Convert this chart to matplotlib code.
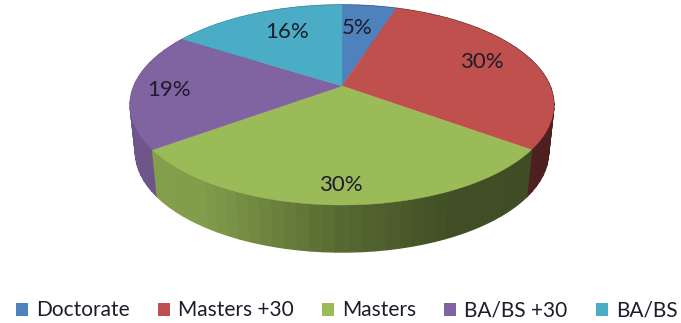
import numpy as np
import matplotlib
matplotlib.use("Agg")
import matplotlib.pyplot as plt
from matplotlib.patches import Polygon, Patch

categories = ["Doctorate", "Masters +30", "Masters", "BA/BS +30", "BA/BS"]
values = [5, 30, 30, 19, 16]
labels = ["5%", "30%", "30%", "19%", "16%"]
colors = ["#4F81BD", "#C0504D", "#9BBB59", "#8064A2", "#4BACC6"]

plt.rcParams['font.family'] = ['Lato', 'DejaVu Sans']
text_color = "#1c1c2c"

# pie centre on screen, size, perspective amount
cx, cy = 342, 86
sx, sy = 208, 96.4
k = 0.19
depth = 47

def project(t):
    # t is clockwise from top, perspective makes the back of the disc smaller
    u = np.sin(t)
    v = np.cos(t)
    return cx + sx * u / (1 + k * v), cy - sy * v / (1 + k * v)

def drop(x, y):
    # same points on the bottom rim of the pie
    return cx + (x - cx) * 0.975, y + depth

def shade(x):
    # side wall gets darker going left to right
    return np.interp(x, [130, 200, 342, 450, 554], [0.86, 0.84, 0.56, 0.42, 0.40])

fig = plt.figure(figsize=(6.81, 3.23), dpi=100)
ax = fig.add_axes([0, 0, 1, 1])
ax.set_xlim(0, 681)
ax.set_ylim(323, 0)
ax.axis("off")

fracs = np.array(values) / sum(values)
edges = np.concatenate([[0], np.cumsum(fracs)]) * 2 * np.pi

# side wall first, back to front
quads = []
for i in range(len(values)):
    ts = np.linspace(edges[i], edges[i + 1], int(fracs[i] * 120) + 2)
    for a, b in zip(ts[:-1], ts[1:]):
        quads.append((np.cos((a + b) / 2), a, b, colors[i]))
quads.sort(key=lambda q: -q[0])
for _, a, b, c in quads:
    ends = np.linspace(a, b, 8)
    x, y = project(ends)
    xb, yb = drop(x, y)
    pts = list(zip(x, y)) + list(zip(xb[::-1], yb[::-1]))
    s = shade(x.mean())
    rgb = np.array(matplotlib.colors.to_rgb(c)) * s
    ax.add_patch(Polygon(pts, closed=True, facecolor=rgb, edgecolor=rgb, linewidth=1.0))

# top of the pie
for i in range(len(values)):
    ts = np.linspace(edges[i], edges[i + 1], 80)
    x, y = project(ts)
    pts = [(cx, cy)] + list(zip(x, y))
    ax.add_patch(Polygon(pts, closed=True, facecolor=colors[i], edgecolor=colors[i], linewidth=0.3))

label_pos = [(357, 28), (482, 62), (341, 185), (169, 90), (287, 32)]
for lab, (lx, ly) in zip(labels, label_pos):
    ax.text(lx, ly, lab, ha="center", va="center", fontsize=16, color=text_color)

handles = [Patch(facecolor=c, edgecolor="none") for c in colors]
leg = ax.legend(handles, categories, ncol=5, loc="center", bbox_to_anchor=(346.5 / 681, 1 - 310.5 / 323),
                frameon=False, fontsize=15, labelcolor=text_color, handlelength=0.58, handleheight=0.58,
                handletextpad=0.38, columnspacing=1.36, borderpad=0, borderaxespad=0)

fig.savefig("out.png", dpi=100)
